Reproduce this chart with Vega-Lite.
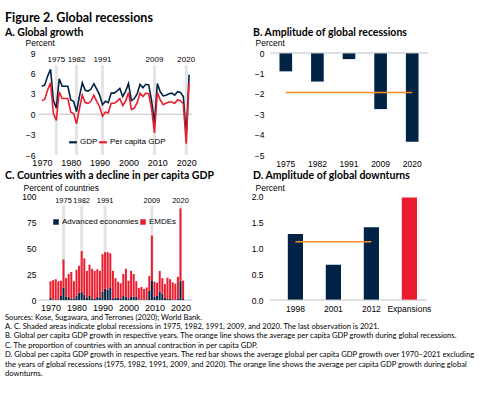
{
  "$schema": "https://vega.github.io/schema/vega-lite/v6.json",
  "background": "white",
  "padding": {"left": 5, "right": 5, "top": 12, "bottom": 2},
  "title": {
    "text": [
      "Sources: Kose, Sugawara, and Terrones (2020); World Bank.",
      "A. C. Shaded areas indicate global recessions in 1975, 1982, 1991, 2009, and 2020. The last observation is 2021.",
      "B. Global per capita GDP growth in respective years. The orange line shows the average per capita GDP growth during global recessions.",
      "C. The proportion of countries with an annual contraction in per capita GDP.",
      "D. Global per capita GDP growth in respective years. The red bar shows the average global per capita GDP growth over 1970\u20132021 excluding",
      "the years of global recessions (1975, 1982, 1991, 2009, and 2020). The orange line shows the average per capita GDP growth during global",
      "downturns."
    ],
    "orient": "bottom",
    "anchor": "start",
    "frame": "bounds",
    "font": "Lato",
    "fontSize": 7.6,
    "fontWeight": "normal",
    "lineHeight": 9.4,
    "offset": 1,
    "color": "#000"
  },
  "resolve": {"scale": {"color": "independent"}, "legend": {"color": "independent"}},
  "datasets": {
    "recessions": [{"year": 1975}, {"year": 1982}, {"year": 1991}, {"year": 2009}, {"year": 2020}],
    "growth": [
      {"year": 1970, "GDP": 4.1, "Per capita GDP": 2.0},
      {"year": 1971, "GDP": 4.3, "Per capita GDP": 2.2},
      {"year": 1972, "GDP": 5.6, "Per capita GDP": 3.6},
      {"year": 1973, "GDP": 6.6, "Per capita GDP": 4.6},
      {"year": 1974, "GDP": 2.0, "Per capita GDP": 0.1},
      {"year": 1975, "GDP": 0.9, "Per capita GDP": -0.9},
      {"year": 1976, "GDP": 5.2, "Per capita GDP": 3.3},
      {"year": 1977, "GDP": 4.1, "Per capita GDP": 2.3},
      {"year": 1978, "GDP": 4.1, "Per capita GDP": 2.3},
      {"year": 1979, "GDP": 4.1, "Per capita GDP": 2.3},
      {"year": 1980, "GDP": 2.1, "Per capita GDP": 0.3},
      {"year": 1981, "GDP": 1.9, "Per capita GDP": 0.1},
      {"year": 1982, "GDP": 0.4, "Per capita GDP": -1.4},
      {"year": 1983, "GDP": 2.6, "Per capita GDP": 0.8},
      {"year": 1984, "GDP": 4.6, "Per capita GDP": 2.8},
      {"year": 1985, "GDP": 3.5, "Per capita GDP": 1.7},
      {"year": 1986, "GDP": 3.4, "Per capita GDP": 1.6},
      {"year": 1987, "GDP": 3.7, "Per capita GDP": 1.9},
      {"year": 1988, "GDP": 4.5, "Per capita GDP": 2.8},
      {"year": 1989, "GDP": 3.7, "Per capita GDP": 1.9},
      {"year": 1990, "GDP": 2.8, "Per capita GDP": 1.1},
      {"year": 1991, "GDP": 1.4, "Per capita GDP": -0.3},
      {"year": 1992, "GDP": 1.9, "Per capita GDP": 0.3},
      {"year": 1993, "GDP": 1.7, "Per capita GDP": 0.2},
      {"year": 1994, "GDP": 3.1, "Per capita GDP": 1.6},
      {"year": 1995, "GDP": 3.1, "Per capita GDP": 1.6},
      {"year": 1996, "GDP": 3.4, "Per capita GDP": 1.9},
      {"year": 1997, "GDP": 3.8, "Per capita GDP": 2.3},
      {"year": 1998, "GDP": 2.6, "Per capita GDP": 1.27},
      {"year": 1999, "GDP": 3.4, "Per capita GDP": 1.9},
      {"year": 2000, "GDP": 4.5, "Per capita GDP": 3.2},
      {"year": 2001, "GDP": 2.0, "Per capita GDP": 0.68},
      {"year": 2002, "GDP": 2.3, "Per capita GDP": 0.9},
      {"year": 2003, "GDP": 3.0, "Per capita GDP": 1.7},
      {"year": 2004, "GDP": 4.4, "Per capita GDP": 3.1},
      {"year": 2005, "GDP": 3.9, "Per capita GDP": 2.6},
      {"year": 2006, "GDP": 4.4, "Per capita GDP": 3.1},
      {"year": 2007, "GDP": 4.3, "Per capita GDP": 3.0},
      {"year": 2008, "GDP": 2.0, "Per capita GDP": 0.8},
      {"year": 2009, "GDP": -1.3, "Per capita GDP": -2.75},
      {"year": 2010, "GDP": 4.5, "Per capita GDP": 3.2},
      {"year": 2011, "GDP": 3.3, "Per capita GDP": 2.1},
      {"year": 2012, "GDP": 2.7, "Per capita GDP": 1.4},
      {"year": 2013, "GDP": 2.8, "Per capita GDP": 1.6},
      {"year": 2014, "GDP": 3.0, "Per capita GDP": 1.8},
      {"year": 2015, "GDP": 3.1, "Per capita GDP": 1.8},
      {"year": 2016, "GDP": 2.8, "Per capita GDP": 1.6},
      {"year": 2017, "GDP": 3.3, "Per capita GDP": 2.1},
      {"year": 2018, "GDP": 3.2, "Per capita GDP": 2.0},
      {"year": 2019, "GDP": 2.6, "Per capita GDP": 1.5},
      {"year": 2020, "GDP": -3.1, "Per capita GDP": -4.35},
      {"year": 2021, "GDP": 5.8, "Per capita GDP": 4.7}
    ],
    "decline": [
      {"year": 1970, "Advanced economies": 2, "EMDEs": 16},
      {"year": 1971, "Advanced economies": 0.5, "EMDEs": 18.5},
      {"year": 1972, "Advanced economies": 0.5, "EMDEs": 19.5},
      {"year": 1973, "Advanced economies": 0.5, "EMDEs": 17.5},
      {"year": 1974, "Advanced economies": 4, "EMDEs": 14.5},
      {"year": 1975, "Advanced economies": 12, "EMDEs": 27},
      {"year": 1976, "Advanced economies": 3, "EMDEs": 18},
      {"year": 1977, "Advanced economies": 3, "EMDEs": 22},
      {"year": 1978, "Advanced economies": 1, "EMDEs": 26},
      {"year": 1979, "Advanced economies": 1, "EMDEs": 17},
      {"year": 1980, "Advanced economies": 4, "EMDEs": 25},
      {"year": 1981, "Advanced economies": 7, "EMDEs": 26},
      {"year": 1982, "Advanced economies": 7.5, "EMDEs": 39.5},
      {"year": 1983, "Advanced economies": 5, "EMDEs": 35},
      {"year": 1984, "Advanced economies": 2, "EMDEs": 26},
      {"year": 1985, "Advanced economies": 4, "EMDEs": 30},
      {"year": 1986, "Advanced economies": 1, "EMDEs": 29},
      {"year": 1987, "Advanced economies": 1, "EMDEs": 27},
      {"year": 1988, "Advanced economies": 3, "EMDEs": 26.5},
      {"year": 1989, "Advanced economies": 2, "EMDEs": 26},
      {"year": 1990, "Advanced economies": 8, "EMDEs": 36},
      {"year": 1991, "Advanced economies": 11, "EMDEs": 35},
      {"year": 1992, "Advanced economies": 10, "EMDEs": 36},
      {"year": 1993, "Advanced economies": 12, "EMDEs": 33},
      {"year": 1994, "Advanced economies": 1, "EMDEs": 27},
      {"year": 1995, "Advanced economies": 2, "EMDEs": 19},
      {"year": 1996, "Advanced economies": 2, "EMDEs": 15.6},
      {"year": 1997, "Advanced economies": 1, "EMDEs": 15},
      {"year": 1998, "Advanced economies": 4, "EMDEs": 21},
      {"year": 1999, "Advanced economies": 3, "EMDEs": 27},
      {"year": 2000, "Advanced economies": 1, "EMDEs": 17.6},
      {"year": 2001, "Advanced economies": 3, "EMDEs": 25},
      {"year": 2002, "Advanced economies": 3, "EMDEs": 22},
      {"year": 2003, "Advanced economies": 3, "EMDEs": 15},
      {"year": 2004, "Advanced economies": 0.5, "EMDEs": 11},
      {"year": 2005, "Advanced economies": 0.5, "EMDEs": 12},
      {"year": 2006, "Advanced economies": 0.5, "EMDEs": 10.1},
      {"year": 2007, "Advanced economies": 0.5, "EMDEs": 11.5},
      {"year": 2008, "Advanced economies": 9, "EMDEs": 14},
      {"year": 2009, "Advanced economies": 19, "EMDEs": 43},
      {"year": 2010, "Advanced economies": 3, "EMDEs": 14.6},
      {"year": 2011, "Advanced economies": 4, "EMDEs": 12.7},
      {"year": 2012, "Advanced economies": 8, "EMDEs": 20},
      {"year": 2013, "Advanced economies": 6, "EMDEs": 15},
      {"year": 2014, "Advanced economies": 2, "EMDEs": 13.4},
      {"year": 2015, "Advanced economies": 1, "EMDEs": 20.5},
      {"year": 2016, "Advanced economies": 1, "EMDEs": 19},
      {"year": 2017, "Advanced economies": 0.5, "EMDEs": 16.5},
      {"year": 2018, "Advanced economies": 0.5, "EMDEs": 15.2},
      {"year": 2019, "Advanced economies": 1, "EMDEs": 21.4},
      {"year": 2020, "Advanced economies": 18, "EMDEs": 70},
      {"year": 2021, "Advanced economies": 1, "EMDEs": 17.6}
    ],
    "ampRec": [
      {"year": "1975", "value": -0.9},
      {"year": "1982", "value": -1.4},
      {"year": "1991", "value": -0.3},
      {"year": "2009", "value": -2.75},
      {"year": "2020", "value": -4.35}
    ],
    "ampRecAvg": [{"year": "1975", "avg": -1.94}, {"year": "2020", "avg": -1.94}],
    "ampDown": [
      {"cat": "1998", "value": 1.27, "kind": "Downturn"},
      {"cat": "2001", "value": 0.68, "kind": "Downturn"},
      {"cat": "2012", "value": 1.4, "kind": "Downturn"},
      {"cat": "Expansions", "value": 1.97, "kind": "Expansions"}
    ],
    "ampDownAvg": [{"cat": "1998", "avg": 1.12}, {"cat": "2012", "avg": 1.12}]
  },
  "columns": 2,
  "spacing": {"row": 41, "column": 78},
  "bounds": "flush",
  "concat": [
    {
      "width": 153,
      "height": 102,
      "title": {
        "text": "Figure 2. Global recessions",
        "subtitle": "A. Global growth",
        "anchor": "start",
        "frame": "group",
        "dx": -34,
        "fontSize": 12.5,
        "fontWeight": "bold",
        "subtitleFont": "Lato",
        "subtitleFontSize": 10.5,
        "subtitleFontWeight": "bold",
        "subtitleColor": "#000",
        "subtitlePadding": 3,
        "offset": 0
      },
      "layer": [
        {
          "data": {"name": "recessions"},
          "mark": {"type": "rule", "strokeWidth": 3, "color": "#e4e4e4"},
          "encoding": {
            "x": {"field": "year", "type": "quantitative", "scale": {"domain": [1969, 2022], "nice": false, "zero": false},
              "axis": {"title": null, "values": [1970, 1980, 1990, 2000, 2010, 2020], "tickCount": 20, "format": "d", "labelFontSize": 9, "labelPadding": 3, "labelOverlap": false}},
            "y": {"datum": -6, "type": "quantitative", "scale": {"domain": [-6, 9], "nice": false},
              "axis": {"title": "Percent", "values": [-6, -3, 0, 3, 6, 9], "tickCount": 20, "format": "d", "titleAngle": 0, "titleAlign": "left", "titleBaseline": "middle", "titleX": -14, "titleY": -11, "labelPadding": 4, "labelOverlap": false}},
            "y2": {"datum": 7.2}
          }
        },
        {
          "data": {"values": [{}]},
          "mark": {"type": "rule", "color": "#c0c0c0", "strokeWidth": 1},
          "encoding": {"y": {"datum": 0}}
        },
        {
          "data": {"name": "growth"},
          "transform": [{"fold": ["GDP", "Per capita GDP"], "as": ["series", "value"]}],
          "mark": {"type": "line", "strokeWidth": 1.6},
          "encoding": {
            "x": {"field": "year", "type": "quantitative"},
            "y": {"field": "value", "type": "quantitative"},
            "color": {"field": "series", "type": "nominal",
              "scale": {"domain": ["GDP", "Per capita GDP"], "range": ["#002345", "#EB1C2D"]},
              "legend": {"title": null, "orient": "none", "legendX": 29, "legendY": 84, "direction": "horizontal", "symbolType": "stroke", "symbolSize": 60, "symbolStrokeWidth": 2.2, "labelFontSize": 8, "columnPadding": -6, "labelOffset": 2}}
          }
        },
        {
          "data": {"name": "recessions"},
          "mark": {"type": "text", "fontSize": 8, "font": "Liberation Sans", "color": "#000"},
          "encoding": {
            "x": {"field": "year", "type": "quantitative"},
            "y": {"datum": 8},
            "text": {"field": "year", "type": "quantitative", "format": "d"}
          }
        }
      ]
    },
    {
      "width": 158,
      "height": 102,
      "title": {"text": "B. Amplitude of global recessions", "anchor": "start", "frame": "group", "dx": -17, "fontSize": 10.5, "fontWeight": "bold", "offset": 0},
      "layer": [
        {
          "data": {"name": "ampRec"},
          "mark": {"type": "bar", "color": "#002345"},
          "encoding": {
            "x": {"field": "year", "type": "nominal", "scale": {"paddingInner": 0.6, "paddingOuter": 0.3},
              "axis": {"title": null, "labelAngle": 0, "labelPadding": 4, "labelOverlap": false}},
            "y": {"field": "value", "type": "quantitative", "scale": {"domain": [-5, 0], "nice": false},
              "axis": {"title": "Percent", "values": [-5, -4, -3, -2, -1, 0], "tickCount": 20, "format": "d", "titleAngle": 0, "titleAlign": "left", "titleBaseline": "middle", "titleX": -15, "titleY": -11, "labelPadding": 6, "labelOverlap": false}}
          }
        },
        {
          "data": {"values": [{}]},
          "mark": {"type": "rule", "color": "#c0c0c0", "strokeWidth": 1},
          "encoding": {"y": {"datum": 0}}
        },
        {
          "data": {"name": "ampRecAvg"},
          "mark": {"type": "line", "color": "#F78D28", "strokeWidth": 1.5},
          "encoding": {
            "x": {"field": "year", "type": "nominal"},
            "y": {"field": "avg", "type": "quantitative"}
          }
        }
      ]
    },
    {
      "width": 153,
      "height": 104,
      "title": {"text": "C. Countries with a decline in per capita GDP", "anchor": "start", "frame": "group", "dx": -34, "fontSize": 10.5, "fontWeight": "bold", "offset": 2},
      "layer": [
        {
          "data": {"name": "recessions"},
          "mark": {"type": "rule", "strokeWidth": 3, "color": "#e4e4e4"},
          "encoding": {
            "x": {"field": "year", "type": "quantitative", "scale": {"domain": [1967.5, 2022.5], "nice": false, "zero": false},
              "axis": {"title": null, "values": [1970, 1980, 1990, 2000, 2010, 2020], "tickCount": 20, "format": "d", "labelFontSize": 9, "labelPadding": 3, "labelOverlap": false}},
            "y": {"datum": 0, "type": "quantitative", "scale": {"domain": [0, 100], "nice": false},
              "axis": {"title": "Percent of countries", "values": [0, 25, 50, 75, 100], "tickCount": 20, "format": "d", "titleAngle": 0, "titleAlign": "left", "titleBaseline": "middle", "titleX": -16, "titleY": -9, "labelPadding": 3, "labelOverlap": false}},
            "y2": {"datum": 91}
          }
        },
        {
          "data": {"values": [{}]},
          "mark": {"type": "rule", "color": "#c0c0c0", "strokeWidth": 1},
          "encoding": {"y": {"datum": 0}}
        },
        {
          "data": {"name": "decline"},
          "transform": [{"fold": ["Advanced economies", "EMDEs"], "as": ["group", "value"]}],
          "mark": {"type": "bar", "size": 2},
          "encoding": {
            "x": {"field": "year", "type": "quantitative"},
            "y": {"field": "value", "type": "quantitative", "stack": "zero"},
            "order": {"field": "group", "type": "ordinal", "sort": "ascending"},
            "color": {"field": "group", "type": "nominal",
              "scale": {"domain": ["Advanced economies", "EMDEs"], "range": ["#002345", "#EB1C2D"]},
              "legend": {"title": null, "orient": "none", "legendX": 13, "legendY": 22, "direction": "horizontal", "symbolType": "square", "symbolSize": 30, "symbolStrokeWidth": 0, "labelFontSize": 8, "columnPadding": -20, "labelOffset": 2}}
          }
        },
        {
          "data": {"name": "recessions"},
          "mark": {"type": "text", "fontSize": 7.5, "font": "Liberation Sans", "color": "#000"},
          "encoding": {
            "x": {"field": "year", "type": "quantitative"},
            "y": {"datum": 95},
            "text": {"field": "year", "type": "quantitative", "format": "d"}
          }
        }
      ]
    },
    {
      "width": 157,
      "height": 104,
      "title": {"text": "D. Amplitude of global downturns", "anchor": "start", "frame": "group", "dx": -17, "fontSize": 10.5, "fontWeight": "bold", "offset": 2},
      "layer": [
        {
          "data": {"name": "ampDown"},
          "mark": {"type": "bar"},
          "encoding": {
            "x": {"field": "cat", "type": "nominal", "scale": {"paddingInner": 0.6, "paddingOuter": 0.366, "align": 0.64},
              "axis": {"title": null, "labelAngle": 0, "labelPadding": 4, "labelOverlap": false}},
            "y": {"field": "value", "type": "quantitative", "scale": {"domain": [0, 2], "nice": false},
              "axis": {"title": "Percent", "values": [0, 0.5, 1, 1.5, 2], "tickCount": 20, "format": ".1f", "titleAngle": 0, "titleAlign": "left", "titleBaseline": "middle", "titleX": -15, "titleY": -9, "labelPadding": 7, "labelOverlap": false}},
            "color": {"field": "kind", "type": "nominal", "scale": {"domain": ["Downturn", "Expansions"], "range": ["#002345", "#EB1C2D"]}, "legend": null}
          }
        },
        {
          "data": {"values": [{}]},
          "mark": {"type": "rule", "color": "#c0c0c0", "strokeWidth": 1},
          "encoding": {"y": {"datum": 0}}
        },
        {
          "data": {"name": "ampDownAvg"},
          "mark": {"type": "line", "color": "#F78D28", "strokeWidth": 1.5},
          "encoding": {
            "x": {"field": "cat", "type": "nominal"},
            "y": {"field": "avg", "type": "quantitative"}
          }
        }
      ]
    }
  ],
  "config": {
    "view": {"stroke": null},
    "axis": {"grid": false, "domain": false, "ticks": false, "labelOverlap": false, "labelFont": "Liberation Sans", "labelColor": "#000", "labelFontSize": 8.5, "titleFont": "Liberation Sans", "titleFontWeight": "normal", "titleColor": "#000", "titleFontSize": 8.5},
    "legend": {"labelFont": "Liberation Sans", "labelColor": "#000"},
    "title": {"font": "Lato", "color": "#000", "anchor": "start"}
  }
}
